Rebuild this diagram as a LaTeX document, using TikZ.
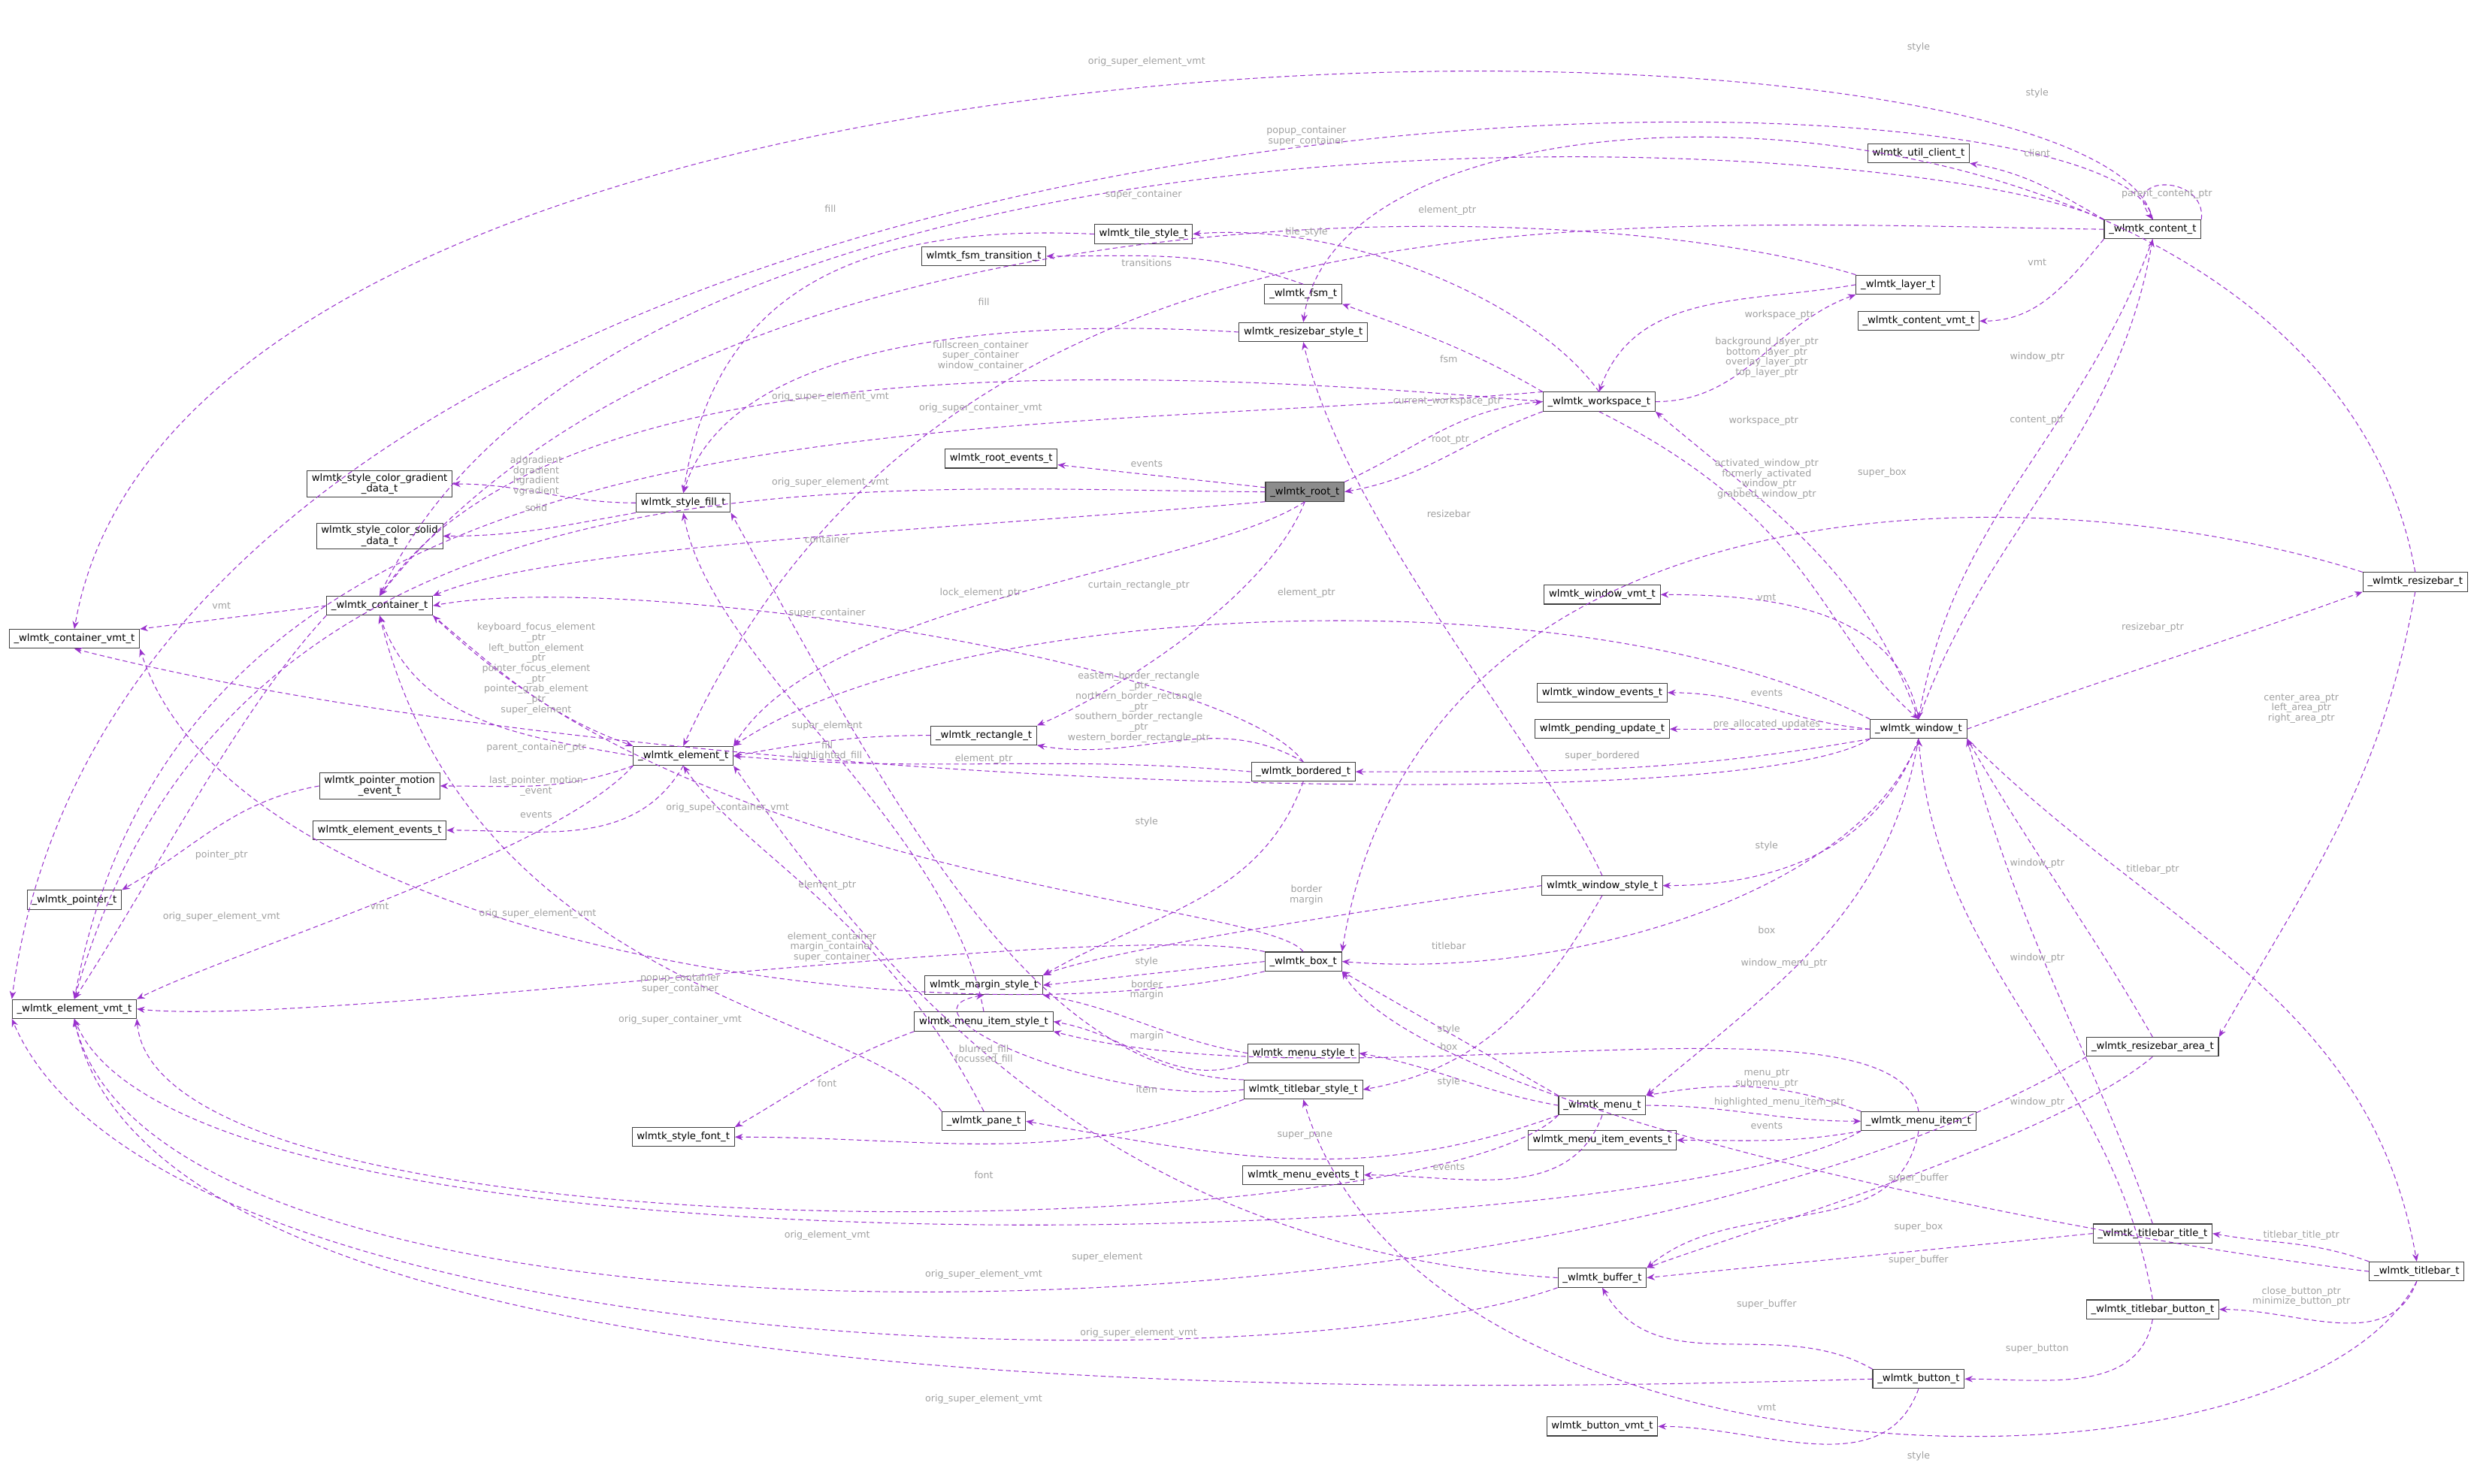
\documentclass[tikz,border=0pt]{standalone}
\usepackage{fontspec}
\setmainfont{DejaVu Sans}
\usetikzlibrary{arrows.meta}
\definecolor{pur}{RGB}{154,50,205}
\definecolor{lab}{RGB}{160,160,160}
\begin{document}
\begin{tikzpicture}[x=1pt,y=-1pt,
 cls/.style={draw=black!75,fill=white,font=\fontsize{6.3}{7}\selectfont,inner xsep=3pt,inner ysep=1.5pt,minimum height=12pt,line width=0.5pt,align=center},
 e/.style={draw=pur,dash pattern=on 3pt off 2pt,line width=0.5pt,-{Stealth[length=5pt,width=4pt]}},
 lbl/.style={text=lab,font=\fontsize{6}{6.5}\selectfont,align=center,inner sep=0pt}]
\useasboundingbox (0,0) rectangle (1568,938);
% nodes
\node[cls,fill=black!45] (root) at (825,311) {\_wlmtk\_root\_t};
\node[cls] (rootev) at (633,290) {wlmtk\_root\_events\_t};
\node[cls] (ws) at (1011,254) {\_wlmtk\_workspace\_t};
\node[cls] (cont) at (240,383) {\_wlmtk\_container\_t};
\node[cls] (elem) at (432,478) {\_wlmtk\_element\_t};
\node[cls] (cvmt) at (47,404) {\_wlmtk\_container\_vmt\_t};
\node[cls] (evmt) at (47,638) {\_wlmtk\_element\_vmt\_t};
\node[cls] (fill) at (432,318) {wlmtk\_style\_fill\_t};
\node[cls] (grad) at (240,306) {wlmtk\_style\_color\_gradient\\\_data\_t};
\node[cls] (solid) at (240,339) {wlmtk\_style\_color\_solid\\\_data\_t};
\node[cls] (fsmtr) at (622,162) {wlmtk\_fsm\_transition\_t};
\node[cls] (tile) at (723,148) {wlmtk\_tile\_style\_t};
\node[cls] (fsm) at (824,186) {\_wlmtk\_fsm\_t};
\node[cls] (rbstyle) at (824,210) {wlmtk\_resizebar\_style\_t};
\node[cls] (layer) at (1200,180) {\_wlmtk\_layer\_t};
\node[cls] (cvmt2) at (1213,203) {\_wlmtk\_content\_vmt\_t};
\node[cls] (client) at (1213,97) {wlmtk\_util\_client\_t};
\node[cls] (content) at (1361,145) {\_wlmtk\_content\_t};
\node[cls] (rect) at (622,465) {\_wlmtk\_rectangle\_t};
\node[cls] (bord) at (824,488) {\_wlmtk\_bordered\_t};
\node[cls] (wvmt) at (1013,376) {wlmtk\_window\_vmt\_t};
\node[cls] (wev) at (1013,438) {wlmtk\_window\_events\_t};
\node[cls] (pend) at (1013,461) {wlmtk\_pending\_update\_t};
\node[cls] (win) at (1213,461) {\_wlmtk\_window\_t};
\node[cls] (rbar) at (1527,368) {\_wlmtk\_resizebar\_t};
\node[cls] (pme) at (240,497) {wlmtk\_pointer\_motion\\\_event\_t};
\node[cls] (eev) at (240,525) {wlmtk\_element\_events\_t};
\node[cls] (ptr) at (47,569) {\_wlmtk\_pointer\_t};
\node[cls] (wstyle) at (1013,560) {wlmtk\_window\_style\_t};
\node[cls] (box) at (824,608) {\_wlmtk\_box\_t};
\node[cls] (margin) at (622,623) {wlmtk\_margin\_style\_t};
\node[cls] (mistyle) at (622,646) {wlmtk\_menu\_item\_style\_t};
\node[cls] (mstyle) at (824,666) {wlmtk\_menu\_style\_t};
\node[cls] (tstyle) at (824,689) {wlmtk\_titlebar\_style\_t};
\node[cls] (font) at (432,719) {wlmtk\_style\_font\_t};
\node[cls] (pane) at (622,709) {\_wlmtk\_pane\_t};
\node[cls] (menu) at (1013,699) {\_wlmtk\_menu\_t};
\node[cls] (mitem) at (1213,709) {\_wlmtk\_menu\_item\_t};
\node[cls] (miev) at (1013,721) {wlmtk\_menu\_item\_events\_t};
\node[cls] (mev) at (824,743) {wlmtk\_menu\_events\_t};
\node[cls] (rarea) at (1361,662) {\_wlmtk\_resizebar\_area\_t};
\node[cls] (ttitle) at (1361,780) {\_wlmtk\_titlebar\_title\_t};
\node[cls] (tbar) at (1528,804) {\_wlmtk\_titlebar\_t};
\node[cls] (buf) at (1013,808) {\_wlmtk\_buffer\_t};
\node[cls] (tbtn) at (1361,828) {\_wlmtk\_titlebar\_button\_t};
\node[cls] (btn) at (1213,872) {\_wlmtk\_button\_t};
\node[cls] (bvmt) at (1013,902) {wlmtk\_button\_vmt\_t};
% edges
\draw[e] (root) -- (rootev);
\draw[e] (root.north east) to[out=25,in=185] (ws.west);
\draw[e] (ws.south west) to[out=200,in=10] (root.east);
\draw[e] (root.south west) .. controls (600,335) and (350,345) .. (cont.north east);
\draw[e] (root.south) .. controls (760,360) and (520,380) .. (elem.north east);
\draw[e] (root.south) .. controls (800,380) and (700,440) .. (rect.north east);
\draw[e] (root.west) .. controls (550,310) and (150,270) .. (evmt.north);
\draw[e] (ws.west) .. controls (700,230) and (350,220) .. (cont.north);
\draw[e] (ws.north west) .. controls (600,280) and (120,240) .. (evmt.north);
\draw[e] (ws.north west) to[out=150,in=-20] (fsm.south east);
\draw[e] (ws.north) .. controls (970,190) and (850,140) .. (tile.east);
\draw[e] (ws.east) to[out=0,in=200] (layer.south west);
\draw[e] (layer.west) to[out=190,in=70] (ws.north);
\draw[e] (layer.north west) .. controls (1000,120) and (450,110) .. (cont.north);
\draw[e] (fsm.north) to[out=160,in=0] (fsmtr.east);
\draw[e] (content.north west) to[out=150,in=-10] (client.south east);
\draw[e] (content.south west) to[out=230,in=0] (cvmt2.east);
\draw[e] (content.south) to[out=250,in=80] (win.north);
\draw[e] (win.north) to[out=70,in=260] (content.south);
\draw[e] (content.north east) .. controls (1395,110) and (1340,110) .. (content.north);
\draw[e] (content.west) .. controls (1000,140) and (600,110) .. (elem.north);
\draw[e] (content.north west) .. controls (1200,80) and (400,40) .. (cont.north);
\draw[e] (content.north) .. controls (1340,20) and (90,20) .. (evmt.north west);
\draw[e] (content.north) .. controls (1330,-10) and (120,-20) .. (cvmt.north);
\draw[e] (tile.west) .. controls (520,140) and (450,200) .. (fill.north);
\draw[e] (rbstyle.west) .. controls (620,200) and (460,220) .. (fill.north);
\draw[e] (fill.west) to[out=180,in=0] (grad.east);
\draw[e] (fill.south west) to[out=190,in=0] (solid.east);
\draw[e] (cont.west) -- (cvmt.north east);
\draw[e] (cont.south east) to[out=-40,in=160] (elem.north west);
\draw[e] (elem.west) to[out=170,in=-70] (cont.south);
\draw[e] (elem.south west) to[out=200,in=0] (pme.east);
\draw[e] (elem.south) to[out=240,in=0] (eev.east);
\draw[e] (elem.south west) .. controls (350,540) and (150,600) .. (evmt.north east);
\draw[e] (cont.south west) .. controls (150,450) and (100,550) .. (evmt.north);
\draw[e] (pme.west) to[out=190,in=30] (ptr.north east);
\draw[e] (rect.west) to[out=180,in=10] (elem.east);
\draw[e] (bord.north) to[out=150,in=-10] (rect.south east);
\draw[e] (bord.west) to[out=175,in=-5] (elem.east);
\draw[e] (bord.north) .. controls (780,420) and (400,360) .. (cont.east);
\draw[e] (bord.south) to[out=250,in=30] (margin.north east);
\draw[e] (mistyle.north) .. controls (600,520) and (450,420) .. (fill.south);
\draw[e] (win.north) to[out=110,in=-40] (ws.south east);
\draw[e] (win.north) to[out=100,in=0] (wvmt.east);
\draw[e] (win.west) to[out=175,in=0] (wev.east);
\draw[e] (win.west) -- (pend.east);
\draw[e] (win.south west) to[out=190,in=0] (bord.east);
\draw[e] (win.east) to[out=20,in=200] (rbar.south west);
\draw[e] (win.north west) .. controls (1000,360) and (600,380) .. (elem.north east);
\draw[e] (win.south) to[out=250,in=0] (wstyle.east);
\draw[e] (win.south) .. controls (1180,560) and (1000,620) .. (box.east);
\draw[e] (win.south) to[out=260,in=40] (menu.north east);
\draw[e] (win.south east) to[out=-45,in=100] (tbar.north);
\draw[e] (ws.south) .. controls (1150,330) and (1150,400) .. (win.north);
\draw[e] (win.south west) .. controls (1100,520) and (400,500) .. (cvmt.south);
\draw[e] (rbar.north west) .. controls (1300,300) and (900,290) .. (box.north east);
\draw[e] (rbar.north) .. controls (1470,40) and (850,20) .. (rbstyle.north);
\draw[e] (rbar.south) to[out=260,in=60] (rarea.north east);
\draw[e] (rarea.north) to[out=120,in=-60] (win.south east);
\draw[e] (rarea.south) .. controls (1300,720) and (1100,780) .. (buf.north east);
\draw[e] (rarea.south west) .. controls (1000,860) and (100,880) .. (evmt.south);
\draw[e] (wstyle.west) .. controls (900,570) and (700,600) .. (margin.north east);
\draw[e] (wstyle.south) to[out=240,in=10] (tstyle.east);
\draw[e] (wstyle.north) .. controls (980,480) and (850,330) .. (rbstyle.south);
\draw[e] (box.north) .. controls (800,570) and (450,560) .. (cont.south east);
\draw[e] (box.west) -- (margin.east);
\draw[e] (box.north west) .. controls (700,580) and (200,650) .. (evmt.east);
\draw[e] (box.south west) .. controls (600,660) and (150,600) .. (cvmt.south east);
\draw[e] (mstyle.west) to[out=170,in=-10] (margin.south east);
\draw[e] (mstyle.south west) to[out=200,in=-10] (mistyle.east);
\draw[e] (mistyle.south west) to[out=200,in=30] (font.north east);
\draw[e] (tstyle.west) .. controls (700,700) and (560,640) .. (margin.south);
\draw[e] (tstyle.south west) to[out=200,in=0] (font.east);
\draw[e] (tstyle.north west) .. controls (650,680) and (560,500) .. (fill.south east);
\draw[e] (pane.north west) .. controls (550,640) and (300,630) .. (cont.south);
\draw[e] (pane.north) .. controls (560,580) and (470,540) .. (elem.south);
\draw[e] (menu.north west) to[out=150,in=-30] (box.south east);
\draw[e] (menu.west) to[out=170,in=-10] (mstyle.east);
\draw[e] (menu.south west) to[out=200,in=-10] (pane.east);
\draw[e] (menu.south) to[out=250,in=0] (mev.east);
\draw[e] (menu.south west) .. controls (900,790) and (100,800) .. (evmt.south east);
\draw[e] (mitem.north west) to[out=160,in=10] (menu.north east);
\draw[e] (menu.east) to[out=0,in=180] (mitem.west);
\draw[e] (mitem.south west) to[out=190,in=0] (miev.east);
\draw[e] (mitem.south) to[out=260,in=40] (buf.north east);
\draw[e] (mitem.north) .. controls (1200,620) and (850,700) .. (mistyle.south east);
\draw[e] (mitem.south west) .. controls (1050,790) and (120,820) .. (evmt.south);
\draw[e] (buf.west) .. controls (700,790) and (560,620) .. (elem.south east);
\draw[e] (buf.south west) .. controls (800,880) and (100,860) .. (evmt.south west);
\draw[e] (ttitle.west) -- (buf.east);
\draw[e] (ttitle.north) to[out=110,in=-75] (win.south east);
\draw[e] (tbar.north west) to[out=160,in=-10] (ttitle.east);
\draw[e] (tbar.south) to[out=250,in=0] (tbtn.east);
\draw[e] (tbar.west) .. controls (1300,780) and (900,700) .. (box.south east);
\draw[e] (tbar.south) .. controls (1450,960) and (900,950) .. (tstyle.south);
\draw[e] (tbtn.north) to[out=100,in=-85] (win.south);
\draw[e] (tbtn.south) to[out=260,in=0] (btn.east);
\draw[e] (btn.north west) to[out=150,in=-60] (buf.south);
\draw[e] (btn.south) to[out=250,in=0] (bvmt.east);
\draw[e] (btn.west) .. controls (900,880) and (100,900) .. (evmt.south);
% labels
\node[lbl] at (725,293) {events};
\node[lbl] at (915,254) {current\_workspace\_ptr};
\node[lbl] at (917,278) {root\_ptr};
\node[lbl] at (523,341) {container};
\node[lbl] at (620,375) {lock\_element\_ptr};
\node[lbl] at (720,370) {curtain\_rectangle\_ptr};
\node[lbl] at (525,251) {orig\_super\_element\_vmt};
\node[lbl] at (525,305) {orig\_super\_element\_vmt};
\node[lbl] at (620,258) {orig\_super\_container\_vmt};
\node[lbl] at (620,225) {fullscreen\_container\\super\_container\\window\_container};
\node[lbl] at (916,227) {fsm};
\node[lbl] at (826,147) {tile\_style};
\node[lbl] at (1117,226) {background\_layer\_ptr\\bottom\_layer\_ptr\\overlay\_layer\_ptr\\top\_layer\_ptr};
\node[lbl] at (1125,199) {workspace\_ptr};
\node[lbl] at (723,123) {super\_container};
\node[lbl] at (725,166) {transitions};
\node[lbl] at (1288,97) {client};
\node[lbl] at (1288,166) {vmt};
\node[lbl] at (1288,226) {window\_ptr};
\node[lbl] at (1288,266) {content\_ptr};
\node[lbl] at (1370,123) {parent\_content\_ptr};
\node[lbl] at (915,133) {element\_ptr};
\node[lbl] at (826,86) {popup\_container\\super\_container};
\node[lbl] at (725,39) {orig\_super\_element\_vmt};
\node[lbl] at (1288,59) {style};
\node[lbl] at (525,132) {fill};
\node[lbl] at (622,191) {fill};
\node[lbl] at (339,301) {adgradient\\dgradient\\hgradient\\vgradient};
\node[lbl] at (339,321) {solid};
\node[lbl] at (140,383) {vmt};
\node[lbl] at (339,423) {keyboard\_focus\_element\\\_ptr\\left\_button\_element\\\_ptr\\pointer\_focus\_element\\\_ptr\\pointer\_grab\_element\\\_ptr\\super\_element};
\node[lbl] at (339,473) {parent\_container\_ptr};
\node[lbl] at (339,497) {last\_pointer\_motion\\\_event};
\node[lbl] at (339,515) {events};
\node[lbl] at (240,573) {vmt};
\node[lbl] at (140,580) {orig\_super\_element\_vmt};
\node[lbl] at (140,541) {pointer\_ptr};
\node[lbl] at (523,459) {super\_element};
\node[lbl] at (720,447) {eastern\_border\_rectangle\\\_ptr\\northern\_border\_rectangle\\\_ptr\\southern\_border\_rectangle\\\_ptr\\western\_border\_rectangle\_ptr};
\node[lbl] at (622,480) {element\_ptr};
\node[lbl] at (523,388) {super\_container};
\node[lbl] at (725,520) {style};
\node[lbl] at (523,475) {fill\\highlighted\_fill};
\node[lbl] at (1115,266) {workspace\_ptr};
\node[lbl] at (1117,378) {vmt};
\node[lbl] at (1117,438) {events};
\node[lbl] at (1117,458) {pre\_allocated\_updates};
\node[lbl] at (1013,478) {super\_bordered};
\node[lbl] at (1361,397) {resizebar\_ptr};
\node[lbl] at (826,375) {element\_ptr};
\node[lbl] at (1117,535) {style};
\node[lbl] at (1117,588) {box};
\node[lbl] at (1128,609) {window\_menu\_ptr};
\node[lbl] at (1361,550) {titlebar\_ptr};
\node[lbl] at (1117,303) {activated\_window\_ptr\\formerly\_activated\\\_window\_ptr\\grabbed\_window\_ptr};
\node[lbl] at (460,511) {orig\_super\_container\_vmt};
\node[lbl] at (1190,299) {super\_box};
\node[lbl] at (1213,30) {style};
\node[lbl] at (1455,448) {center\_area\_ptr\\left\_area\_ptr\\right\_area\_ptr};
\node[lbl] at (1288,546) {window\_ptr};
\node[lbl] at (1213,745) {super\_buffer};
\node[lbl] at (720,843) {orig\_super\_element\_vmt};
\node[lbl] at (826,566) {border\\margin};
\node[lbl] at (916,598) {titlebar};
\node[lbl] at (916,325) {resizebar};
\node[lbl] at (526,599) {element\_container\\margin\_container\\super\_container};
\node[lbl] at (725,608) {style};
\node[lbl] at (340,578) {orig\_super\_element\_vmt};
\node[lbl] at (430,645) {orig\_super\_container\_vmt};
\node[lbl] at (725,626) {border\\margin};
\node[lbl] at (725,655) {margin};
\node[lbl] at (725,689) {item};
\node[lbl] at (523,685) {font};
\node[lbl] at (622,667) {blurred\_fill\\focussed\_fill};
\node[lbl] at (622,743) {font};
\node[lbl] at (430,622) {popup\_container\\super\_container};
\node[lbl] at (523,560) {element\_ptr};
\node[lbl] at (916,662) {box};
\node[lbl] at (916,684) {style};
\node[lbl] at (916,651) {style};
\node[lbl] at (825,718) {super\_pane};
\node[lbl] at (916,738) {events};
\node[lbl] at (523,781) {orig\_element\_vmt};
\node[lbl] at (1117,682) {menu\_ptr\\submenu\_ptr};
\node[lbl] at (1125,697) {highlighted\_menu\_item\_ptr};
\node[lbl] at (1117,712) {events};
\node[lbl] at (622,806) {orig\_super\_element\_vmt};
\node[lbl] at (700,795) {super\_element};
\node[lbl] at (1213,776) {super\_box};
\node[lbl] at (1213,797) {super\_buffer};
\node[lbl] at (1288,606) {window\_ptr};
\node[lbl] at (1288,697) {window\_ptr};
\node[lbl] at (1455,781) {titlebar\_title\_ptr};
\node[lbl] at (1455,820) {close\_button\_ptr\\minimize\_button\_ptr};
\node[lbl] at (1288,853) {super\_button};
\node[lbl] at (1117,825) {super\_buffer};
\node[lbl] at (1117,890) {vmt};
\node[lbl] at (622,885) {orig\_super\_element\_vmt};
\node[lbl] at (1213,921) {style};
\end{tikzpicture}
\end{document}
